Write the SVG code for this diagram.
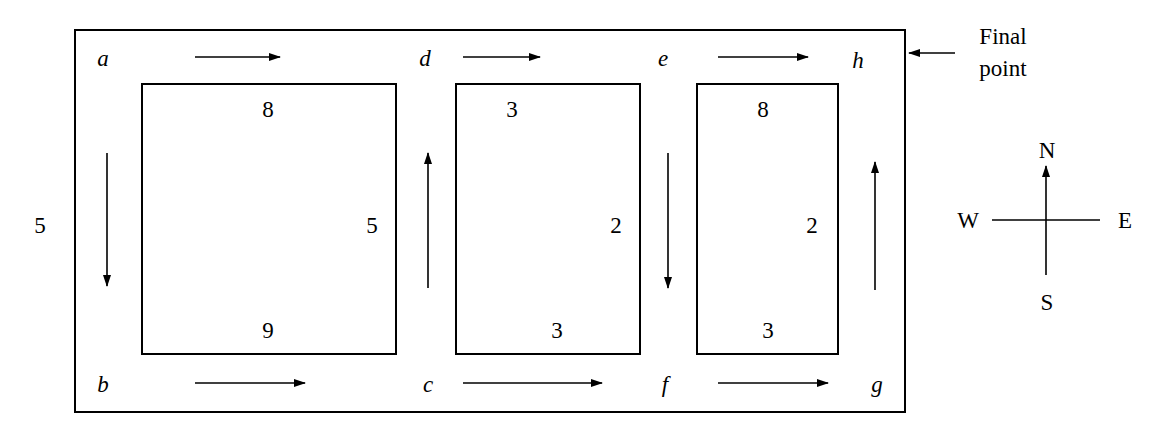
<svg xmlns="http://www.w3.org/2000/svg" width="1164" height="446" viewBox="0 0 1164 446">
<style>
.b{fill:none;stroke:#000;stroke-width:2}
.t{font-family:"Liberation Serif",serif;font-size:23px;fill:#000;text-anchor:middle}
.i{font-style:italic}
.c line{stroke:#000;stroke-width:1.6;marker-end:url(#ah)}
</style>
<defs><marker id="ah" markerWidth="12" markerHeight="8" refX="11" refY="4" orient="auto" markerUnits="userSpaceOnUse"><path d="M0,0 L12,4 L0,8 Z" fill="#000"/></marker></defs>
<rect width="1164" height="446" fill="#fff"/>
<g id="outer"><rect class="b" x="75" y="30" width="830" height="382"/></g>
<g id="block1"><rect class="b" x="142" y="84" width="254" height="270"/><text class="t" x="268" y="117">8</text><text class="t" x="268" y="338">9</text><text class="t" x="372" y="233">5</text></g>
<g id="block2"><rect class="b" x="456" y="84" width="184" height="270"/><text class="t" x="512" y="117">3</text><text class="t" x="557" y="338">3</text><text class="t" x="616" y="233">2</text></g>
<g id="block3"><rect class="b" x="697" y="84" width="141" height="270"/><text class="t" x="763" y="117">8</text><text class="t" x="768" y="338">3</text><text class="t" x="812" y="233">2</text></g>
<g id="labels"><text class="t i" x="103" y="66">a</text><text class="t i" x="425" y="66">d</text><text class="t i" x="663" y="66">e</text><text class="t i" x="858" y="68">h</text><text class="t i" x="103" y="392">b</text><text class="t i" x="428" y="392">c</text><text class="t i" x="665" y="392">f</text><text class="t i" x="877" y="392">g</text><text class="t" x="40" y="233">5</text></g>
<g id="final"><text class="t" x="1003" y="44">Final</text><text class="t" x="1003" y="76">point</text></g>
<g id="compass"><line x1="992" y1="220" x2="1100" y2="220" stroke="#000" stroke-width="1.6"/><line x1="1046" y1="275" x2="1046" y2="166" stroke="#000" stroke-width="1.6" marker-end="url(#ah)"/><text class="t" x="1047" y="158">N</text><text class="t" x="968" y="228">W</text><text class="t" x="1125" y="228">E</text><text class="t" x="1047" y="310">S</text></g>
<g class="c" id="connectors">
<line x1="195" y1="57" x2="280" y2="57"/><line x1="463" y1="57" x2="540" y2="57"/><line x1="718" y1="57" x2="808" y2="57"/>
<line x1="195" y1="383" x2="305" y2="383"/><line x1="463" y1="383" x2="602" y2="383"/><line x1="718" y1="383" x2="828" y2="383"/>
<line x1="107" y1="153" x2="107" y2="286"/><line x1="428" y1="288" x2="428" y2="153"/><line x1="668" y1="153" x2="668" y2="288"/><line x1="875" y1="290" x2="875" y2="162"/>
<line x1="955" y1="53" x2="909" y2="53"/>
</g>
</svg>
